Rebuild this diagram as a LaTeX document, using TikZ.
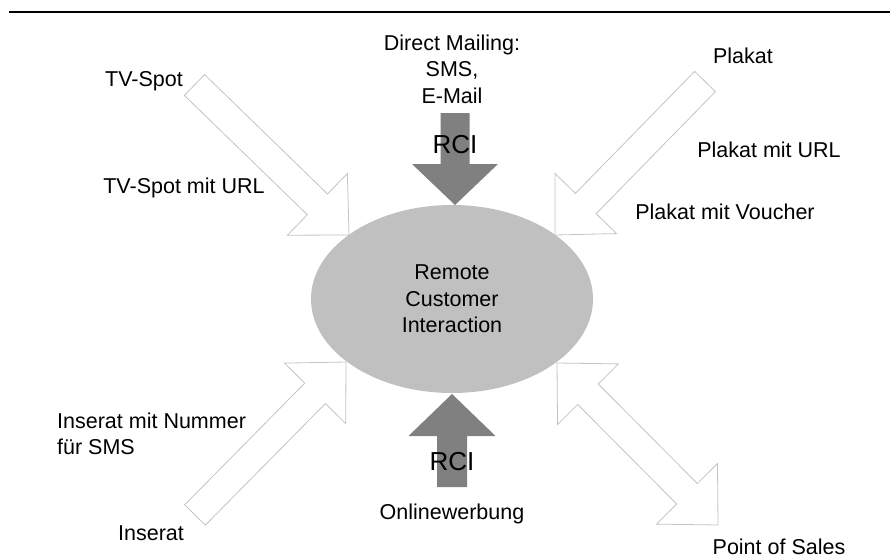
\documentclass[tikz,border=0pt]{standalone}
\usepackage{fontspec}
\setmainfont{Liberation Sans}
\usetikzlibrary{calc,shapes.geometric}
\definecolor{ellgray}{HTML}{C0C0C0}
\definecolor{darkgray}{HTML}{808080}
\definecolor{outl}{HTML}{C4C4C4}
\tikzset{
  lbl/.style={inner sep=0pt, font=\fontsize{21.5}{26.5}\selectfont, align=center},
  rcilbl/.style={inner sep=0pt, font=\fontsize{26}{30}\selectfont},
  hollow/.style={draw=outl, fill=white, line width=0.8pt, line join=miter},
  solidarrow/.style={fill=darkgray, draw=none},
  hub/.style={ellipse, fill=ellgray, draw=none, minimum width=282pt, minimum height=188pt, inner sep=0pt},
}
% #1 style, #2 tail, #3 tip, #4 shaft half width, #5 head half width, #6 head length
\newcommand\blkarrow[6]{%
  \coordinate (tmpb) at ($(#3)!#6!(#2)$);
  \path[#1] ($(#2)!#4!90:(#3)$) -- ($(tmpb)!#4!90:(#3)$) -- ($(tmpb)!#5!90:(#3)$) -- (#3)
    -- ($(tmpb)!#5!-90:(#3)$) -- ($(tmpb)!#4!-90:(#3)$) -- ($(#2)!#4!-90:(#3)$) -- cycle;}
% double-headed version: #2 and #3 are the two tips
\newcommand\dblarrow[6]{%
  \coordinate (tmpa) at ($(#2)!#6!(#3)$);
  \coordinate (tmpb) at ($(#3)!#6!(#2)$);
  \path[#1] (#2) -- ($(tmpa)!#5!90:(#3)$) -- ($(tmpa)!#4!90:(#3)$) -- ($(tmpb)!#4!90:(#3)$)
    -- ($(tmpb)!#5!90:(#3)$) -- (#3) -- ($(tmpb)!#5!-90:(#3)$) -- ($(tmpb)!#4!-90:(#3)$)
    -- ($(tmpa)!#4!-90:(#3)$) -- ($(tmpa)!#5!-90:(#3)$) -- cycle;}
\begin{document}
\begin{tikzpicture}[x=1pt,y=-1pt]
\useasboundingbox[fill=white] (0,0) rectangle (890,559);
\draw[line width=2pt] (9,12) -- (890,12);

% coordinates of arrow ends
\coordinate (tvtail) at (194.5,85);
\coordinate (tvtip) at (349,235);
\coordinate (pltail) at (705,81.5);
\coordinate (pltip) at (555,235);
\coordinate (intail) at (195,515);
\coordinate (intip) at (346,362);
\coordinate (posa) at (557,363);
\coordinate (posb) at (718,525);
\coordinate (dmtail) at (455,113);
\coordinate (dmtip) at (455,205);
\coordinate (owtail) at (452,487);
\coordinate (owtip) at (452,394);

\blkarrow{hollow}{tvtail}{tvtip}{14.5pt}{43pt}{44pt}
\blkarrow{hollow}{pltail}{pltip}{14.5pt}{43pt}{44pt}
\blkarrow{hollow}{intail}{intip}{14.5pt}{43pt}{44pt}
\dblarrow{hollow}{posa}{posb}{14.5pt}{43pt}{44pt}

\node[hub, lbl] (rci) at (452,299) {Remote\\Customer\\Interaction};

\blkarrow{solidarrow}{dmtail}{dmtip}{14.5pt}{43pt}{41pt}
\blkarrow{solidarrow}{owtail}{owtip}{15pt}{43.5pt}{42pt}

\node[rcilbl] (rcitop) at (455,145) {RCI};
\node[rcilbl] (rcibot) at (452,462) {RCI};

\node[lbl] (tv) at (144,81) {TV-Spot};
\node[lbl] (tvurl) at (184,188) {TV-Spot mit URL};
\node[lbl] (dm) at (452,69) {Direct Mailing:\\SMS,\\E-Mail};
\node[lbl] (pl) at (743,56) {Plakat};
\node[lbl] (plurl) at (769,150) {Plakat mit URL};
\node[lbl] (plv) at (725,212) {Plakat mit Voucher};
\node[lbl, align=left, anchor=west] (insms) at (57,434) {Inserat mit Nummer\\für SMS};
\node[lbl] (ins) at (151,533) {Inserat};
\node[lbl] (ow) at (452,514) {Onlinewerbung};
\node[lbl] (pos) at (779,547) {Point of Sales};
\end{tikzpicture}
\end{document}
